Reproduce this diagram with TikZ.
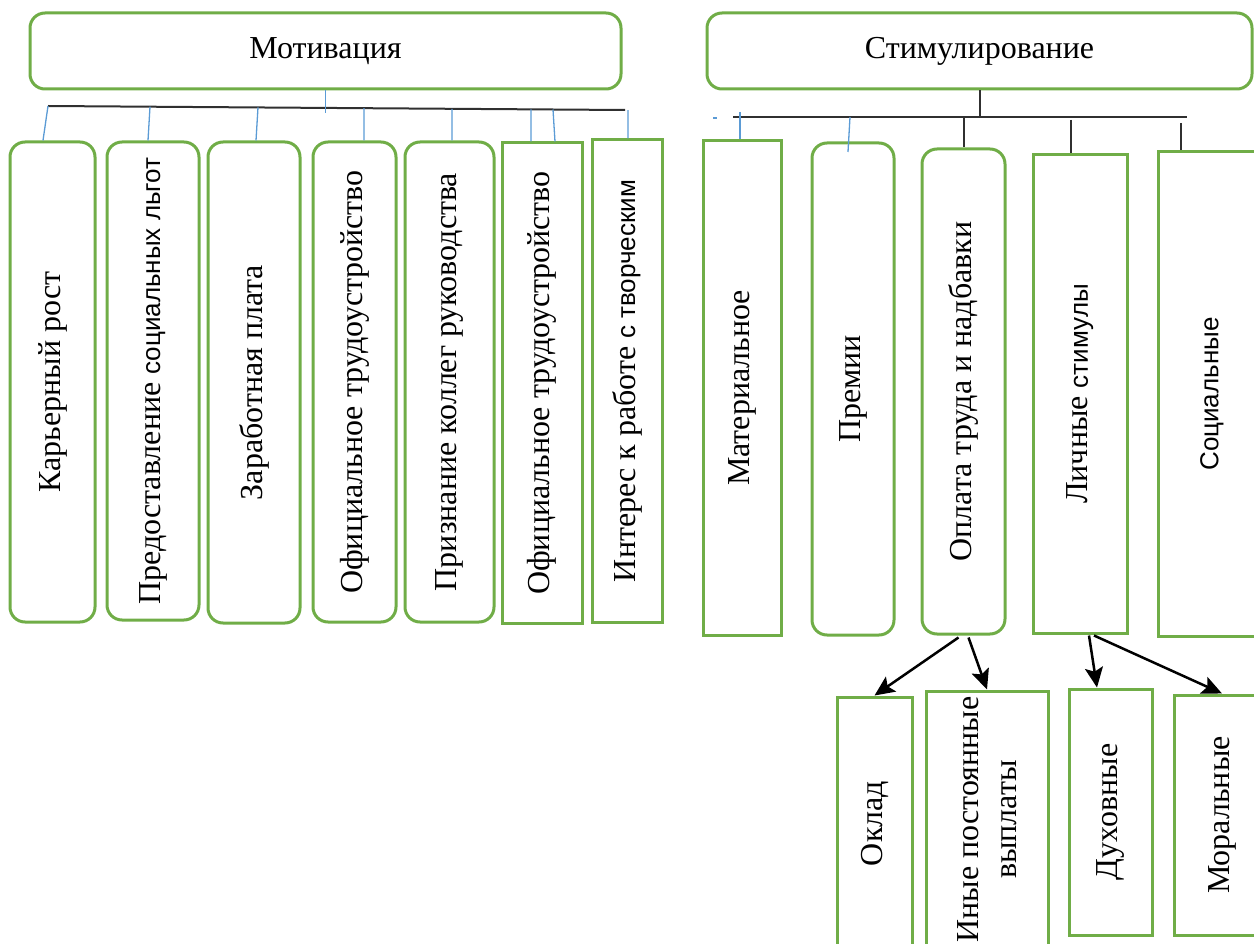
\documentclass[tikz,border=0pt]{standalone}
\usepackage{fontspec}
\setmainfont{Liberation Serif}
\newfontfamily\arialfont{Liberation Sans}
\newcommand\sanspart[1]{{\arialfont\fontsize{26}{30}\selectfont #1}}
\usetikzlibrary{arrows.meta,calc}
\definecolor{boxgreen}{HTML}{70AD47}
\definecolor{tickblue}{HTML}{5B9BD5}
\definecolor{trunkgray}{HTML}{303030}
\begin{document}
\begin{tikzpicture}[x=1pt,y=-1pt]

  % Definitions
  \tikzstyle{Box} = [rectangle, draw=boxgreen, line width=3pt, text centered, inner sep=0pt, font=\fontsize{32}{38}\selectfont]
  \tikzstyle{Rounded} = [Box, rounded corners=15pt]
  \tikzstyle{Tick} = [draw=tickblue, line width=1.3pt]
  \tikzstyle{Trunk} = [draw=trunkgray, line width=2pt]
  \tikzstyle{arrow} = [line width=2.5pt, -{Stealth[length=20pt, width=18pt, inset=4pt]}]

  \useasboundingbox (0,0) rectangle (1254,944);

  % top boxes
  \node (Mot) [Rounded, minimum width=591pt, minimum height=76pt] at (325.5,51) {Мотивация};
  \node (Stim) [Rounded, minimum width=545pt, minimum height=76pt] at (979.5,51) {Стимулирование};

  % motivation factors
  \node (Kar) [Rounded, rotate=90, minimum width=480pt, minimum height=85pt] at (52.5,382) {Карьерный рост};
  \node (Pred) [Rounded, rotate=90, minimum width=478pt, minimum height=92pt] at (153,381) {Предоставление \sanspart{социальных льгот}};
  \node (Zar) [Rounded, rotate=90, minimum width=481pt, minimum height=92pt] at (254,382.5) {Заработная плата};
  \node (Ofi) [Rounded, rotate=90, minimum width=480pt, minimum height=83pt] at (354.5,382) {Официальное трудоустройство};
  \node (Pri) [Rounded, rotate=90, minimum width=480pt, minimum height=89pt] at (449.5,382) {Признание коллег руководства};
  \node (OfiB) [Box, rotate=90, minimum width=480pt, minimum height=80pt] at (542,383) {Официальное трудоустройство};
  \node (Int) [Box, rotate=90, minimum width=482pt, minimum height=70pt] at (627,381) {Интерес к работе \sanspart{с творческим}};

  % stimulation kinds
  \node (Mat) [Box, rotate=90, minimum width=494pt, minimum height=78pt] at (742,388) {Материальное};
  \node (Prem) [Rounded, rotate=90, minimum width=492pt, minimum height=82pt] at (853,389) {Премии};
  \node (Opl) [Rounded, rotate=90, minimum width=485pt, minimum height=83pt] at (963.5,391.5) {Оплата труда и надбавки};
  \node (Lich) [Box, rotate=90, minimum width=478pt, minimum height=94pt] at (1080,394) {Личные \sanspart{стимулы}};
  \node (Soc) [Box, rotate=90, minimum width=484pt, minimum height=108pt] at (1212,394) {\sanspart{Социальные}};

  % lower level
  \node (Okl) [Box, rotate=90, minimum width=253pt, minimum height=75pt] at (874.5,823.5) {Оклад};
  \node (Ine) [Box, rotate=90, minimum width=257pt, minimum height=122pt, align=center] at (987,819.5) {Иные постоянные\\выплаты};
  \node (Duh) [Box, rotate=90, minimum width=246pt, minimum height=83pt] at (1110.5,812) {Духовные};
  \node (Mor) [Box, rotate=90, minimum width=240pt, minimum height=96pt] at (1222,815) {Моральные};

  % left tree
  \coordinate (ML) at (48,106);
  \coordinate (MR) at (625,110);
  \draw [Trunk] (ML) -- (MR);
  \draw [Tick] (Mot.south) -- ++(0,23);
  \foreach \a/\b/\n [evaluate=\a as \t using (\a-48)/577] in {48/43/Kar, 150/148/Pred, 258/256/Zar, 364/364/Ofi, 452/452/Pri, 531/531/OfiB, 553/555/OfiB, 628/628/Int}
    \draw [Tick] ($(ML)!\t!(MR)$) -- (\b,0 |- \n.east);

  % right tree
  \coordinate (SL) at (733,117);
  \coordinate (SR) at (1187,117);
  \draw [Trunk] (SL) -- (SR);
  \draw [Trunk] (Stim.south) -- (Stim.south |- SL);
  \draw [Trunk] (Opl.east |- SL) -- (Opl.east);
  \draw [Trunk] (1071,120) -- (1071,0 |- Lich.east);
  \draw [Trunk] (1181,123) -- (1181,0 |- Soc.east);
  \draw [Tick] (740,112) -- (740,0 |- Mat.east);
  \draw [Tick] (850,117) -- (848,152);
  \draw [Tick] (713,118) -- (717,118);

  % arrows
  \draw [arrow] ($(Opl.west)+(-5,2)$) -- (Okl.east);
  \draw [arrow] ($(Opl.west)+(5,2)$) -- (Ine.east);
  \draw [arrow] ($(Lich.west)+(9,1)$) -- (1097,0 |- Duh.east);
  \draw [arrow] ($(Lich.west)+(14,1)$) -- (Mor.east);

\end{tikzpicture}
\end{document}
